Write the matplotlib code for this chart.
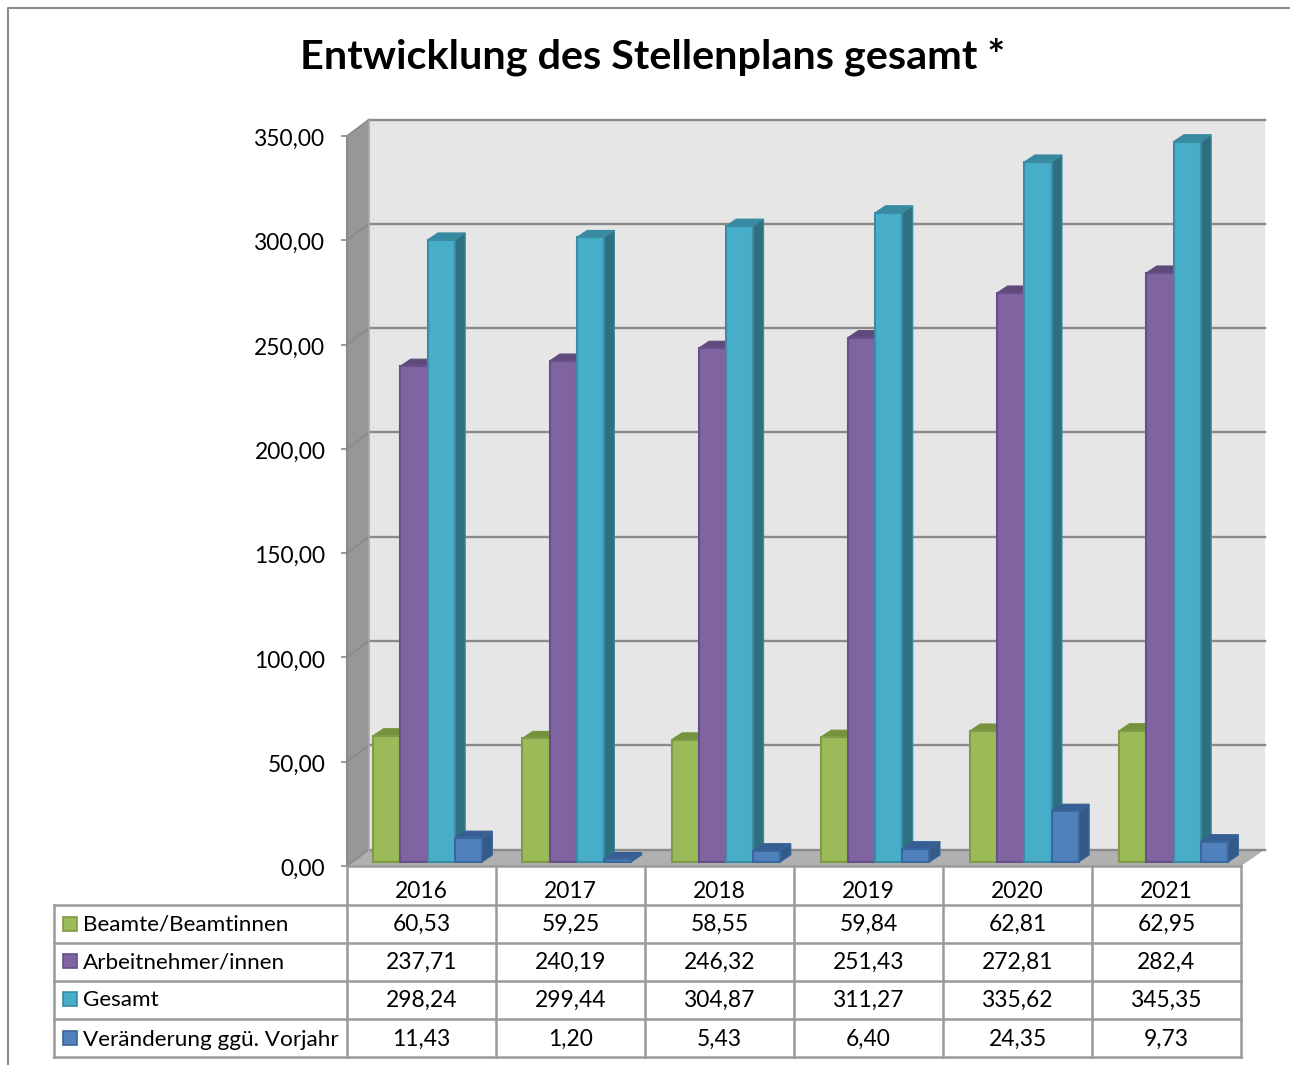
import matplotlib
matplotlib.use("Agg")
import matplotlib.pyplot as plt
from matplotlib.transforms import ScaledTranslation

plt.rcParams['font.family'] = ['Lato', 'DejaVu Sans']

years = ['2016', '2017', '2018', '2019', '2020', '2021']
beamte = [60.53, 59.25, 58.55, 59.84, 62.81, 62.95]
arbeitnehmer = [237.71, 240.19, 246.32, 251.43, 272.81, 282.4]
gesamt = [298.24, 299.44, 304.87, 311.27, 335.62, 345.35]
veraenderung = [11.43, 1.20, 5.43, 6.40, 24.35, 9.73]
series_names = ['Beamte/Beamtinnen', 'Arbeitnehmer/innen', 'Gesamt', 'Veränderung ggü. Vorjahr']
y_ticks = [0, 50, 100, 150, 200, 250, 300, 350]

# front, top, side, edge
green = ('#9bbb59', '#76923c', '#76923c', '#7f9a48')
purple = ('#8064a2', '#5f4a7c', '#5f4a7c', '#65508a')
teal = ('#48adc8', '#378a9f', '#2f7080', '#3a8ba3')
blue = ('#4f81bd', '#375f95', '#355a8a', '#3a679c')

W, H = 1290, 1065
FRONT_L, FRONT_R, FRONT_B, FRONT_T = 347, 1241, 866, 136
px_x = (FRONT_R - FRONT_L) / 6
px_y = (FRONT_B - FRONT_T) / 350

fig = plt.figure(figsize=(W / 100, H / 100), dpi=100)

# overlay in pixels for frame, title and data table
bg = fig.add_axes([0, 0, 1, 1])
bg.set_xlim(0, W)
bg.set_ylim(H, 0)
bg.axis('off')
bg.plot([8, 8, W], [H, 8, 8], color='#8c8c8c', lw=1.5)
bg.text(653, 57, 'Entwicklung des Stellenplans gesamt *', ha='center', va='center',
        fontsize=29.8, fontweight='bold', color='black')

ax = fig.add_axes([FRONT_L / W, (H - FRONT_B) / H, (FRONT_R - FRONT_L) / W, (FRONT_B - FRONT_T) / H])
ax.set_xlim(0, 6)
ax.set_ylim(0, 350)
ax.patch.set_visible(False)
for s in ax.spines.values():
    s.set_visible(False)

# depth of the room, in data units
dx = 22 / px_x
dx_r = 24 / px_x
dy = 16.5 / px_y

ax.fill([dx, 6 + dx_r, 6 + dx_r, dx], [dy, dy, 350 + dy, 350 + dy], color='#e6e6e6', lw=0, clip_on=False, zorder=1)
ax.fill([0, dx, dx, 0], [0, dy, 350 + dy, 350], color='#979797', lw=0, clip_on=False, zorder=1)
ax.fill([0, dx, 6 + dx_r, 6], [0, dy, dy, 0], color='#b0b0b0', lw=0, clip_on=False, zorder=1)

for t in y_ticks:
    ax.plot([dx, 6 + dx_r], [t + dy, t + dy], color='#8a8a8a', lw=1.7, clip_on=False, zorder=2)
    ax.plot([0, dx], [t, t + dy], color='#8a8a8a', lw=1.2, clip_on=False, zorder=2)
ax.plot([0, 0], [0, 350], color='#8a8a8a', lw=1.5, clip_on=False, zorder=3)
ax.plot([dx, dx], [dy, 350 + dy], color='#a8a8a8', lw=1.2, clip_on=False, zorder=2)

ax.set_yticks(y_ticks)
ax.set_yticklabels([f'{t:.2f}'.replace('.', ',') for t in y_ticks], fontsize=16.4)
ax.tick_params(axis='y', length=4.5, width=1.2, color='#8a8a8a', pad=11)
ax.set_xticks([])
for lab in ax.get_yticklabels():
    lab.set_transform(lab.get_transform() + ScaledTranslation(0, -1.5 / 100, fig.dpi_scale_trans))

bar_w = 27.2 / px_x
bar_dx = 10.5 / px_x
bar_dy = 7 / px_y
base = 4 / px_y
shift = 6 / px_x
pitch = 149.2 / px_x


def bar3d(x0, h, cols, z):
    top = base + h
    ax.fill([x0, x0 + bar_w, x0 + bar_w + bar_dx, x0 + bar_dx], [top, top, top + bar_dy, top + bar_dy],
            facecolor=cols[1], edgecolor=cols[1], lw=0.8, clip_on=False, zorder=z)
    ax.fill([x0 + bar_w, x0 + bar_w + bar_dx, x0 + bar_w + bar_dx, x0 + bar_w],
            [base, base + bar_dy, top + bar_dy, top],
            facecolor=cols[2], edgecolor=cols[3], lw=0.8, clip_on=False, zorder=z)
    ax.fill([x0, x0 + bar_w, x0 + bar_w, x0], [base, base, top, top],
            facecolor=cols[0], edgecolor=cols[3], lw=1.5, clip_on=False, zorder=z + 0.5)


all_series = [beamte, arbeitnehmer, gesamt, veraenderung]
all_cols = [green, purple, teal, blue]
for i in range(len(years)):
    for j, (vals, cols) in enumerate(zip(all_series, all_cols)):
        x0 = i * pitch + 0.5 + shift + (j - 2) * bar_w
        bar3d(x0, vals[i], cols, 5 + i + j)

# data table
line = dict(color='#9a9a9a', lw=1.8, solid_capstyle='projecting')
row_y = [905, 943, 981, 1019, 1057]
col_x = [FRONT_L + k * px_x for k in range(7)]
bg2 = fig.add_axes([0, 0, 1, 1])
bg2.set_xlim(0, W)
bg2.set_ylim(H, 0)
bg2.axis('off')
bg2.plot([FRONT_L, FRONT_R], [FRONT_B, FRONT_B], **line)
for y in row_y:
    bg2.plot([54, FRONT_R], [y, y], **line)
bg2.plot([54, 54], [905, 1057], **line)
for x in col_x:
    bg2.plot([x, x], [FRONT_B, 1057], **line)

for k, yr in enumerate(years):
    bg2.text(col_x[k] + px_x / 2, 891, yr, ha='center', va='center', fontsize=16.4)

text_y = [924.5, 962.5, 1000.5, 1039.5]
swatch_y = [924, 961, 999, 1038]
for r, (name, vals, cols) in enumerate(zip(series_names, all_series, all_cols)):
    bg2.add_patch(plt.Rectangle((62.5, swatch_y[r] - 7), 14, 14, facecolor=cols[0], edgecolor=cols[3], lw=1.2))
    bg2.text(83, text_y[r], name, ha='left', va='center', fontsize=16.2)
    for k, v in enumerate(vals):
        label = f'{v:.2f}'.replace('.', ',')
        if label == '282,40':  # the source table shows this one with one decimal
            label = '282,4'
        bg2.text(col_x[k] + px_x / 2, text_y[r], label, ha='center', va='center', fontsize=16.4)

fig.savefig('out.png', dpi=100)
